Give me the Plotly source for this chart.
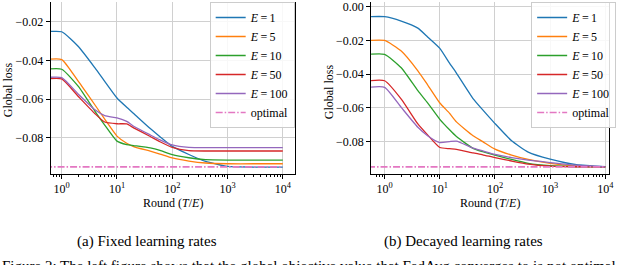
import plotly.graph_objects as go

rounds = [0.5, 1, 2, 4, 6, 10, 15, 20, 40, 60, 100, 200, 400, 1000, 3000, 10000]

fixed_E1 = [-0.0251, -0.0251, -0.0327, -0.0438, -0.0508, -0.0594, -0.0642, -0.0674, -0.0752, -0.0794, -0.0844, -0.0886, -0.0922, -0.0948, -0.0951, -0.0951]
fixed_E5 = [-0.0395, -0.0395, -0.0508, -0.0630, -0.0703, -0.0791, -0.0828, -0.0845, -0.0869, -0.0884, -0.0904, -0.0920, -0.0930, -0.0934, -0.0934, -0.0934]
fixed_E10 = [-0.0445, -0.0445, -0.0534, -0.0663, -0.0734, -0.0817, -0.0835, -0.0840, -0.0852, -0.0865, -0.0887, -0.0903, -0.0913, -0.0915, -0.0915, -0.0915]
fixed_E50 = [-0.0495, -0.0495, -0.0586, -0.0675, -0.0718, -0.0727, -0.0728, -0.0748, -0.0793, -0.0820, -0.0849, -0.0866, -0.0868, -0.0868, -0.0868, -0.0868]
fixed_E100 = [-0.0488, -0.0488, -0.0574, -0.0655, -0.0685, -0.0697, -0.0715, -0.0740, -0.0785, -0.0810, -0.0836, -0.0849, -0.0851, -0.0851, -0.0851, -0.0851]

decay_E1 = [-0.0059, -0.0059, -0.0085, -0.0127, -0.0179, -0.0247, -0.0335, -0.0394, -0.0545, -0.0612, -0.0693, -0.0795, -0.0862, -0.0904, -0.0937, -0.0949]
decay_E5 = [-0.0200, -0.0200, -0.0263, -0.0380, -0.0463, -0.0571, -0.0632, -0.0683, -0.0765, -0.0800, -0.0845, -0.0880, -0.0906, -0.0929, -0.0944, -0.0950]
decay_E10 = [-0.0282, -0.0282, -0.0362, -0.0498, -0.0570, -0.0668, -0.0730, -0.0770, -0.0840, -0.0860, -0.0880, -0.0906, -0.0929, -0.0943, -0.0949, -0.0950]
decay_E50 = [-0.0439, -0.0439, -0.0548, -0.0695, -0.0760, -0.0835, -0.0842, -0.0846, -0.0867, -0.0878, -0.0895, -0.0915, -0.0933, -0.0945, -0.0949, -0.0950]
decay_E100 = [-0.0478, -0.0478, -0.0597, -0.0715, -0.0765, -0.0806, -0.0800, -0.0797, -0.0838, -0.0855, -0.0876, -0.0895, -0.0910, -0.0924, -0.0940, -0.0950]

optimal_value = -0.095

series_names = ["<i>E</i>\u2009=\u20091", "<i>E</i>\u2009=\u20095", "<i>E</i>\u2009=\u200910",
                "<i>E</i>\u2009=\u200950", "<i>E</i>\u2009=\u2009100"]
colors = ["#1f77b4", "#ff7f0e", "#2ca02c", "#d62728", "#9467bd"]
optimal_color = "#e377c2"

x_tickvals = [1, 10, 100, 1000, 10000]
x_ticktext = ["10<sup>0</sup>", "10<sup>1</sup>", "10<sup>2</sup>", "10<sup>3</sup>", "10<sup>4</sup>"]
y_tickvals_left = [-0.02, -0.04, -0.06, -0.08]
y_tickvals_right = [0.0, -0.02, -0.04, -0.06, -0.08]

W, H = 640, 265
SERIF = "Liberation Serif, Times New Roman, serif"

fig = go.Figure()

panels = [
    ("x", "y", "legend", [fixed_E1, fixed_E5, fixed_E10, fixed_E50, fixed_E100]),
    ("x2", "y2", "legend2", [decay_E1, decay_E5, decay_E10, decay_E50, decay_E100]),
]
for xa, ya, lg, data in panels:
    for name, col, vals in zip(series_names, colors, data):
        fig.add_trace(go.Scatter(x=rounds, y=vals, mode="lines", name=name,
                                 line=dict(color=col, width=1.3, shape="spline", smoothing=0.5),
                                 xaxis=xa, yaxis=ya, legend=lg))
    fig.add_trace(go.Scatter(x=[rounds[0], rounds[-1]], y=[optimal_value, optimal_value],
                             mode="lines", name="optimal",
                             line=dict(color=optimal_color, width=1.6, dash="7px,2px,1.5px,2px"),
                             xaxis=xa, yaxis=ya, legend=lg))

minor_vals = [0.7, 0.8, 0.9] + [k * 10 ** d for d in range(4) for k in range(2, 10)]

def xaxis_cfg(domain, rng, anchor):
    return dict(type="log", domain=domain, range=rng, tickvals=x_tickvals, ticktext=x_ticktext,
                ticks="outside", ticklen=4, tickwidth=1, tickcolor="black",
                showline=True, linecolor="black", linewidth=1, mirror=False,
                showgrid=True, gridcolor="#d0d0d0", gridwidth=1, zeroline=False,
                minor=dict(tickvals=minor_vals, ticks="outside", ticklen=2, tickcolor="black", showgrid=False),
                tickfont=dict(family=SERIF, size=12, color="black"), anchor=anchor,
                ticklabeloverflow="allow")

def yaxis_cfg(domain, rng, tv, anchor):
    return dict(domain=domain, range=rng, tickvals=tv,
                ticktext=[("\u22120.%02d" % round(-v * 100)) if v < 0 else "0.00" for v in tv],
                ticks="outside", ticklen=4, tickwidth=1, tickcolor="black",
                showline=True, linecolor="black", linewidth=1, mirror=True,
                showgrid=True, gridcolor="#d0d0d0", gridwidth=1, zeroline=False,
                tickfont=dict(family=SERIF, size=12, color="black"), anchor=anchor,
                ticklabeloverflow="allow")

ydom = [1 - 173.3 / H, 1]

legend_common = dict(bgcolor="rgba(255,255,255,0.85)", bordercolor="#cccccc", borderwidth=1,
                     font=dict(family=SERIF, size=12, color="black"), tracegroupgap=0,
                     yanchor="top", y=1, xanchor="right", itemwidth=30)

fig.update_layout(
    width=W, height=H, margin=dict(l=0, r=0, t=0, b=0),
    paper_bgcolor="white", plot_bgcolor="white",
    xaxis=xaxis_cfg([51 / W, 297 / W], [-0.201, 4.215], "y"),
    xaxis2=xaxis_cfg([374 / W, 614 / W], [-0.246, 4.07], "y2"),
    yaxis=yaxis_cfg(ydom, [-0.0987, -0.0097], y_tickvals_left, "x"),
    yaxis2=yaxis_cfg(ydom, [-0.0992, 0.0028], y_tickvals_right, "x2"),
    legend=dict(x=297 / W, **legend_common),
    legend2=dict(x=621 / W, **legend_common),
    showlegend=True,
)

def px_ann(text, x, y, size, xanchor="center", yanchor="middle", **kw):
    fig.add_annotation(text=text, x=x / W, y=1 - y / H, xref="paper", yref="paper",
                       xanchor=xanchor, yanchor=yanchor, showarrow=False,
                       font=dict(family=SERIF, size=size, color="black"), **kw)

px_ann("Global loss", 8, 88, 12, textangle=-90)
px_ann("Global loss", 331.5, 90, 12, textangle=-90)
px_ann("Round (<i>T</i>/<i>E</i>)", 174, 203, 12)
px_ann("Round (<i>T</i>/<i>E</i>)", 494, 203, 12)
px_ann("(a) Fixed learning rates", 148, 241, 15)
px_ann("(b) Decayed learning rates", 467, 241, 15)
px_ann("Figure 2: The left figure shows that the global objective value that FedAvg converges to is not optimal",
       0, 256, 15, xanchor="left", yanchor="top")

fig.write_html("out.html", config={"displayModeBar": False},
               post_script="document.body.style.margin='0';document.body.style.overflow='hidden';")
